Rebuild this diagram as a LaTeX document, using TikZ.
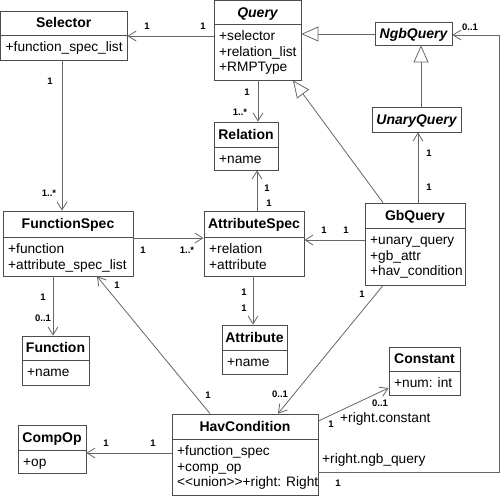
\documentclass[tikz,border=0pt]{standalone}
\usepackage{fontspec}
\setmainfont{Liberation Sans}
\usetikzlibrary{arrows.meta,fit}
\tikzset{
 clsbox/.style={draw=black!70, line width=0.8pt, inner sep=0pt, fill=white},
 ttl/.style={font=\fontsize{14}{15.5}\selectfont\bfseries, inner sep=0pt, anchor=base},
 attr/.style={font=\fontsize{13.7}{15.5}\selectfont, align=left, inner sep=0pt, anchor=north west},
 mult/.style={font=\fontsize{9.5}{10}\selectfont\bfseries, inner sep=0pt},
 role/.style={font=\fontsize{13.7}{15.5}\selectfont, inner sep=0pt, anchor=base west},
 assoc/.style={draw=black!60, line width=0.8pt, -{Straight Barb[length=8pt,width=10pt]}},
 gen/.style={draw=black!60, line width=0.8pt, -{Triangle[open,length=17pt,width=15pt,fill=white]}},
}
\newcommand\umlclass[8]{%
 \node[clsbox, fit={(#2,#3) (#4,#5)}] (#1) {};
 \draw[draw=black!70, line width=0.8pt] (#1.west |- 0,#6) -- (#1.east |- 0,#6);
 \node[ttl] (#1-t) at ({(#2+#4)/2},{(#3+#6)/2+4.9}) {#7};
 \node[attr] (#1-a) at (#2+5,#6+6.5) {\rule{0pt}{10pt}#8};
}
\newcommand\umlname[6]{%
 \node[clsbox, fit={(#2,#3) (#4,#5)}] (#1) {};
 \node[ttl] (#1-t) at ({(#2+#4)/2},{(#3+#5)/2+4.9}) {#6};
}
\begin{document}
\begin{tikzpicture}[x=1pt,y=-1pt]
\useasboundingbox (0,0) rectangle (501,496);
\umlclass{sel}{0.5}{11}{127}{60}{35}{Selector}{+function\_spec\_list}
\umlclass{qry}{214}{0.5}{301}{80}{24}{\itshape Query}{+selector\\+relation\_list\\+RMPType}
\umlname{ngb}{375}{22}{452}{45}{\itshape NgbQuery}
\umlname{una}{372}{107}{461}{132}{\itshape UnaryQuery}
\umlclass{rel}{214}{122}{278}{170}{147}{Relation}{+name}
\umlclass{fsp}{3}{211}{133}{276}{237}{FunctionSpec}{+function\\+attribute\_spec\_list}
\umlclass{asp}{204}{211}{304}{276}{237}{AttributeSpec}{+relation\\+attribute}
\umlclass{gbq}{365}{203}{465}{285}{228}{GbQuery}{+unary\_query\\+gb\_attr\\+hav\_condition}
\umlclass{fun}{22}{336}{89}{385}{360}{Function}{+name}
\umlclass{att}{222}{325}{287}{374}{350}{Attribute}{+name}
\umlclass{cmp}{18}{425}{86}{473}{450}{CompOp}{+op}
\umlclass{hav}{172}{414}{318}{495}{439}{HavCondition}{+function\_spec\\+comp\_op\\<{}<union>{}>+right: Right}
\umlclass{con}{389}{347}{460}{395}{371}{Constant}{+num: int}

% connectors
\draw[assoc] (qry.west |- 0,36) -- (sel.east |- 0,36);
\draw[assoc] (62,0 |- sel.south) -- (62,0 |- fsp.north);
\draw[assoc] (258,0 |- qry.south) -- (258,0 |- rel.north);
\draw[gen] (ngb.west |- 0,34) -- (qry.east |- 0,34);
\draw[gen] (421,0 |- una.north) -- (421,0 |- ngb.south);
\draw[gen] (383,0 |- gbq.north) -- (293,0 |- qry.south);
\draw[assoc] (418,0 |- gbq.north) -- (418,0 |- una.south);
\draw[assoc] (257,0 |- asp.north) -- (257,0 |- rel.south);
\draw[assoc] (gbq.west |- 0,240) -- (asp.east |- 0,240);
\draw[assoc] (fsp.east |- 0,238) -- (asp.west |- 0,238);
\draw[assoc] (53,0 |- fsp.south) -- (53,0 |- fun.north);
\draw[assoc] (253,0 |- asp.south) -- (253,0 |- att.north);
\draw[assoc] (210,0 |- hav.north) -- (97,0 |- fsp.south);
\draw[assoc] (383,0 |- gbq.south) -- (278,0 |- hav.north);
\draw[assoc] (hav.east |- 0,421) -- (con.west |- 0,388);
\draw[assoc] (hav.west |- 0,453) -- (cmp.east |- 0,453);
\coordinate (rt) at (499.5,35);
\draw[assoc] (hav.east |- 0,472) -| (rt) -- (ngb.east |- rt);

% multiplicities
\node[mult] (m1) at (147,26) {1};
\node[mult] (m2) at (203,26) {1};
\node[mult] (m3) at (50,81) {1};
\node[mult] (m4) at (49,193) {1..*};
\node[mult] (m5) at (247,92) {1};
\node[mult] (m6) at (240,112) {1..*};
\node[mult] (m7) at (470,27) {0..1};
\node[mult] (m8) at (143,250) {1};
\node[mult] (m9) at (187,250) {1..*};
\node[mult] (m10) at (267,188) {1};
\node[mult] (m11) at (269,203) {1};
\node[mult] (m12) at (429,153) {1};
\node[mult] (m13) at (429,187) {1};
\node[mult] (m14) at (324,230) {1};
\node[mult] (m15) at (346,230) {1};
\node[mult] (m16) at (43,297) {1};
\node[mult] (m17) at (43,318) {0..1};
\node[mult] (m18) at (117,285) {1};
\node[mult] (m19) at (244,292) {1};
\node[mult] (m20) at (244,308) {1};
\node[mult] (m21) at (208,395) {1};
\node[mult] (m22) at (106,443) {1};
\node[mult] (m23) at (153,443) {1};
\node[mult] (m24) at (362,294) {1};
\node[mult] (m25) at (280,394) {0..1};
\node[mult] (m26) at (380,403) {0..1};
\node[mult] (m27) at (331,424) {1};
\node[mult] (m28) at (338,483) {1};
\node[role] (r1) at (340,422.8) {+right.constant};
\node[role] (r2) at (322,463.8) {+right.ngb\_query};
\end{tikzpicture}
\end{document}
